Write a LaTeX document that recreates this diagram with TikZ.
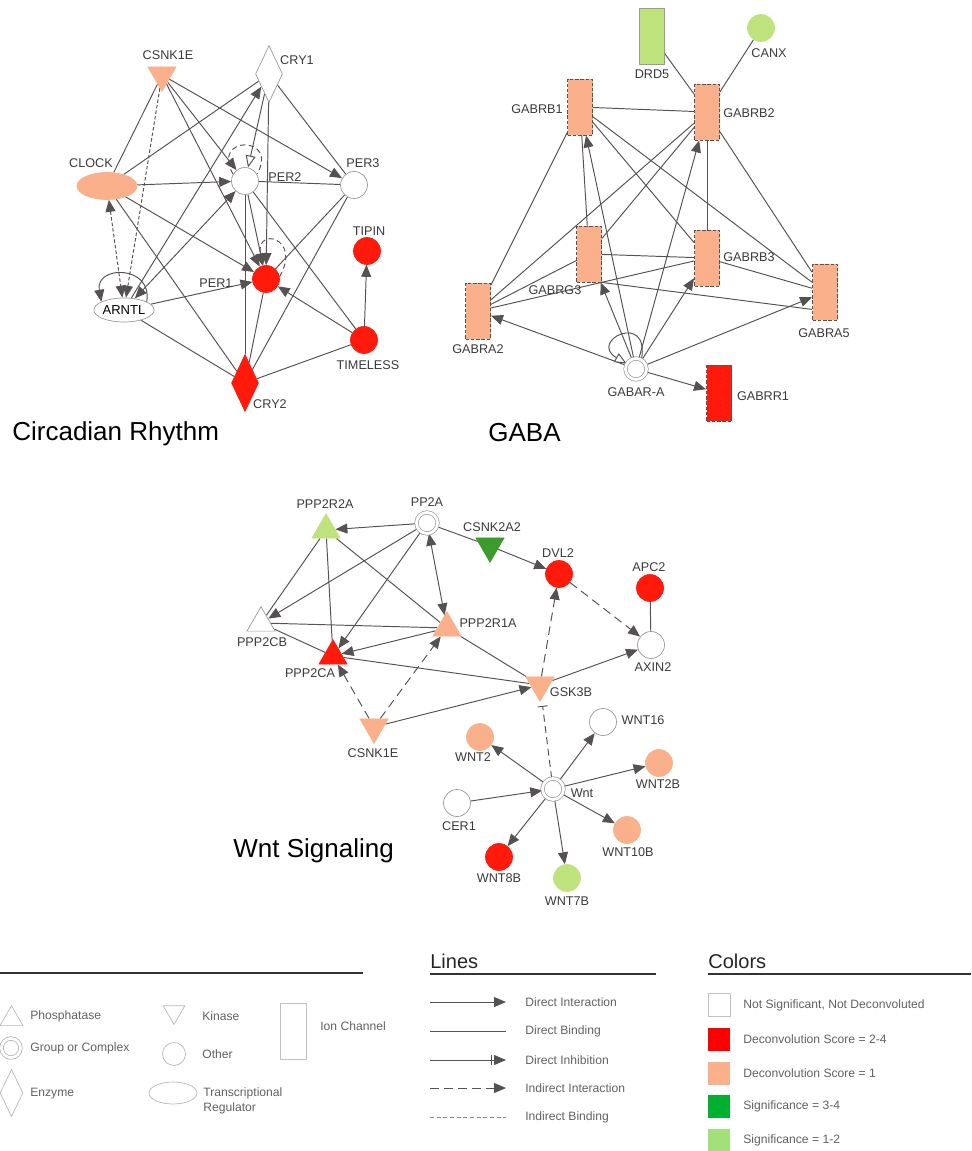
\documentclass[tikz,border=0pt]{standalone}
\usepackage{fontspec}
\setmainfont{Liberation Sans}
\usepackage{tikz}
\usetikzlibrary{shapes.geometric}
\usetikzlibrary{arrows.meta}
\usetikzlibrary{backgrounds}
\usetikzlibrary{calc}

\definecolor{edgegray}{HTML}{575252}
\definecolor{rimgray}{HTML}{9A9A9A}
\definecolor{txtgray}{HTML}{3A3A3A}
\definecolor{degred}{HTML}{FF1A0C}
\definecolor{degpeach}{HTML}{F9B08B}
\definecolor{siglime}{HTML}{BEE37C}
\definecolor{sigdark}{HTML}{3B9B2B}
\definecolor{keyred}{HTML}{FF0000}
\definecolor{keygreen}{HTML}{00B02E}
\definecolor{keylime}{HTML}{A4E07A}

\tikzset{
  every node/.style={inner sep=0pt},
  lbl/.style={font=\fontsize{7.2}{8}\selectfont, text=txtgray},
  title/.style={font=\fontsize{14.8}{16}\selectfont, text=black, anchor=base west},
  keyhead/.style={font=\fontsize{11.4}{13}\selectfont, text=black!85, anchor=base west},
  keytxt/.style={font=\fontsize{6.9}{8.4}\selectfont, text=black!62, anchor=west, align=left},
  other/.style={circle, draw=rimgray, fill=white, minimum size=0.54cm, line width=0.4pt},
  grp/.style={circle, draw=rimgray, fill=white, double=white, double distance=1.6pt, minimum size=0.42cm, line width=0.4pt},
  phos/.style={regular polygon, regular polygon sides=3, draw=rimgray, fill=white, minimum size=0.65cm, line width=0.4pt},
  kin/.style={phos, shape border rotate=180},
  enz/.style={diamond, draw=rimgray, fill=white, minimum width=0.54cm, minimum height=1.14cm, line width=0.4pt},
  treg/.style={ellipse, draw=rimgray, fill=white, minimum width=1.2cm, minimum height=0.54cm, line width=0.4pt},
  ionch/.style={rectangle, draw=edgegray, dash pattern=on 2pt off 1pt, minimum width=0.5cm, minimum height=1.12cm, line width=0.5pt},
  tint/.style={fill=#1, draw=#1},
  keyline/.style={line width=0.9pt, draw=black!80},
  db/.style={draw=edgegray, line width=0.55pt},
  di/.style={db, -{Triangle[length=2.4mm,width=2mm]}},
  dii/.style={db, {Triangle[length=2.4mm,width=2mm]}-{Triangle[length=2.4mm,width=2mm]}},
  opentip/.style={db, -{Triangle[open,length=2.4mm,width=2mm,fill=white]}},
  ii/.style={di, dash pattern=on 5pt off 3pt},
  fine/.style={dash pattern=on 2pt off 1.2pt}
}

\begin{document}
\begin{tikzpicture}[x=0.02cm, y=0.02cm]
  \useasboundingbox (0,0) rectangle (971,-1151);

  % Circadian Rhythm
  \node[kin, tint=degpeach] at (162,-75) (csnk) {};
  \node[enz] at (269,-74) (cry1) {};
  \node[treg, tint=degpeach] at (107,-186) (clock) {};
  \node[other] at (245,-181) (per2) {};
  \node[other] at (354,-185) (per3) {};
  \node[other, tint=degred] at (367,-251) (tipin) {};
  \node[other, tint=degred] at (266,-279) (per1) {};
  \node[treg, minimum height=0.48cm, font=\fontsize{7.4}{8}\selectfont] at (124,-310) (arntl) {ARNTL};
  \node[other, tint=degred] at (364,-340) (timeless) {};
  \node[enz, tint=degred] at (245,-383) (cry2) {};

  \node[lbl] at (168,-55) (csnk-l) {CSNK1E};
  \node[lbl] at (297,-60) (cry1-l) {CRY1};
  \node[lbl] at (91,-163) (clock-l) {CLOCK};
  \node[lbl] at (285,-177) (per2-l) {PER2};
  \node[lbl] at (363,-163) (per3-l) {PER3};
  \node[lbl] at (369,-231) (tipin-l) {TIPIN};
  \node[lbl] at (216,-283) (per1-l) {PER1};
  \node[lbl] at (368,-365) (timeless-l) {TIMELESS};
  \node[lbl] at (270,-404) (cry2-l) {CRY2};
  \node[title] at (12,-440) (circ-t) {Circadian Rhythm};

  \begin{scope}[on background layer]
    \foreach \a/\b in {csnk/clock, cry1/clock, cry1/per3, clock/cry2, per2/per3, per2/cry2,
                       per2/timeless, per3/per1, per3/cry2, timeless/cry2, arntl/cry2, cry2/per1}
      \draw[db] (\a) -- (\b);
    \foreach \a/\b in {csnk/per1, csnk/per2, csnk/per3, arntl/cry1, cry1/per1, clock/per2,
                       clock/per1, per2/per1, timeless/tipin, timeless/per1, arntl/per1}
      \draw[di] (\a) -- (\b);
    \draw[di, fine] (csnk) -- (arntl);
    \draw[dii, fine] (clock) -- (arntl);
    \draw[dii] (per2) -- (arntl);
    \draw[opentip] (cry1) -- (per2);
    % self loops
    \draw[db, dash pattern=on 3pt off 2pt] (per2.150) .. controls +(120:0.9cm) and +(60:0.9cm) .. (per2.30);
    \draw[di, dash pattern=on 3pt off 2pt] (per1.10) .. controls +(60:0.9cm) and +(100:0.8cm) .. (per1.105);
    \draw[di] (arntl.20) .. controls +(80:0.75cm) and +(100:0.75cm) .. (arntl.160);
  \end{scope}

  % GABA
  \node[ionch, draw=rimgray, solid, line width=0.4pt, fill=siglime] at (652,-36) (drd5) {};
  \node[other, tint=siglime] at (761,-28) (canx) {};
  \node[ionch, fill=degpeach] at (580,-107) (gabrb1) {};
  \node[ionch, fill=degpeach] at (707,-112) (gabrb2) {};
  \node[ionch, fill=degpeach] at (589,-254) (gabrg3) {};
  \node[ionch, fill=degpeach] at (707,-258) (gabrb3) {};
  \node[ionch, fill=degpeach] at (478,-311) (gabra2) {};
  \node[ionch, fill=degpeach] at (825,-292) (gabra5) {};
  \node[grp] at (636,-369) (gabara) {};
  \node[ionch, fill=degred] at (719,-393) (gabrr1) {};

  \node[lbl] at (652,-74) (drd5-l) {DRD5};
  \node[lbl] at (769,-53) (canx-l) {CANX};
  \node[lbl] at (537,-109) (gabrb1-l) {GABRB1};
  \node[lbl] at (749,-113) (gabrb2-l) {GABRB2};
  \node[lbl] at (555,-290) (gabrg3-l) {GABRG3};
  \node[lbl] at (749,-257) (gabrb3-l) {GABRB3};
  \node[lbl] at (478,-349) (gabra2-l) {GABRA2};
  \node[lbl] at (824,-333) (gabra5-l) {GABRA5};
  \node[lbl] at (636,-392) (gabara-l) {GABAR-A};
  \node[lbl] at (763,-396) (gabrr1-l) {GABRR1};
  \node[title] at (488,-441) (gaba-t) {GABA};

  \begin{scope}[on background layer]
    \foreach \a/\b in {drd5/gabrb2, canx/gabrb2, gabrb1/gabrb2, gabrb1/gabra2, gabrb1/gabrg3,
                       gabrb1/gabrb3, gabrb1/gabra5, gabrb2/gabra2, gabrb2/gabrg3, gabrb2/gabrb3,
                       gabrb2/gabra5, gabrg3/gabrb3, gabrg3/gabra2, gabrb3/gabra2, gabrb3/gabra5}
      \draw[db] (\a) -- (\b);
    \draw[db] (gabrg3.south east) -- ($(gabra5.south west)+(0,11)$);
    \foreach \b in {gabrb1, gabrb2, gabrg3, gabrb3, gabra2, gabra5, gabrr1}
      \draw[di] (gabara) -- (\b);
    \draw[opentip] (gabara.60) .. controls +(80:1cm) and +(150:0.9cm) .. (gabara.150);
  \end{scope}

  % Wnt Signaling
  \node[phos, tint=siglime] at (326,-530) (ppp2r2a) {};
  \node[grp] at (427,-523) (pp2a) {};
  \node[kin, tint=sigdark] at (490,-546) (csnk2a2) {};
  \node[other, tint=degred] at (559,-574) (dvl2) {};
  \node[other, tint=degred] at (650,-588) (apc2) {};
  \node[other] at (651,-645) (axin2) {};
  \node[phos] at (261,-623) (ppp2cb) {};
  \node[phos, tint=degpeach] at (447,-628) (ppp2r1a) {};
  \node[phos, tint=degred] at (333,-656) (ppp2ca) {};
  \node[kin, tint=degpeach] at (540,-685) (gsk3b) {};
  \node[kin, tint=degpeach] at (374,-727) (csnkw) {};
  \node[other, tint=degpeach] at (480,-737) (wnt2) {};
  \node[other] at (603,-722) (wnt16) {};
  \node[other, tint=degpeach] at (659,-763) (wnt2b) {};
  \node[grp] at (553,-789) (wnt) {};
  \node[other] at (457,-803) (cer1) {};
  \node[other, tint=degpeach] at (627,-830) (wnt10b) {};
  \node[other, tint=degred] at (499,-857) (wnt8b) {};
  \node[other, tint=siglime] at (567,-878) (wnt7b) {};

  \node[lbl] at (325,-504) (ppp2r2a-l) {PPP2R2A};
  \node[lbl] at (427,-502) (pp2a-l) {PP2A};
  \node[lbl] at (492,-527) (csnk2a2-l) {CSNK2A2};
  \node[lbl] at (558,-553) (dvl2-l) {DVL2};
  \node[lbl] at (649,-567) (apc2-l) {APC2};
  \node[lbl] at (653,-667) (axin2-l) {AXIN2};
  \node[lbl] at (262,-642) (ppp2cb-l) {PPP2CB};
  \node[lbl] at (488,-623) (ppp2r1a-l) {PPP2R1A};
  \node[lbl] at (310,-673) (ppp2ca-l) {PPP2CA};
  \node[lbl] at (571,-692) (gsk3b-l) {GSK3B};
  \node[lbl] at (373,-753) (csnkw-l) {CSNK1E};
  \node[lbl] at (473,-757) (wnt2-l) {WNT2};
  \node[lbl] at (643,-720) (wnt16-l) {WNT16};
  \node[lbl] at (658,-784) (wnt2b-l) {WNT2B};
  \node[lbl] at (582,-793) (wnt-l) {Wnt};
  \node[lbl] at (459,-826) (cer1-l) {CER1};
  \node[lbl] at (628,-852) (wnt10b-l) {WNT10B};
  \node[lbl] at (499,-878) (wnt8b-l) {WNT8B};
  \node[lbl] at (567,-901) (wnt7b-l) {WNT7B};
  \node[title] at (233,-857) (wnt-t) {Wnt Signaling};

  \begin{scope}[on background layer]
    \foreach \a/\b in {pp2a/csnk2a2, ppp2r2a/ppp2cb, ppp2r2a/ppp2ca, ppp2r2a/ppp2r1a, ppp2r1a/gsk3b,
                       ppp2cb/ppp2r1a, ppp2cb/ppp2ca, ppp2ca/gsk3b, apc2/axin2}
      \draw[db] (\a) -- (\b);
    \foreach \a/\b in {pp2a/ppp2r2a, pp2a/ppp2cb, pp2a/ppp2ca, csnk2a2/dvl2, ppp2r1a/ppp2ca,
                       csnkw/gsk3b, gsk3b/axin2, cer1/wnt}
      \draw[di] (\a) -- (\b);
    \foreach \b in {wnt2, wnt16, wnt2b, wnt10b, wnt8b, wnt7b}
      \draw[di] (wnt) -- (\b);
    \draw[dii] (pp2a) -- (ppp2r1a);
    \foreach \a/\b in {csnkw/ppp2ca, csnkw/ppp2r1a, gsk3b/dvl2, dvl2/axin2}
      \draw[ii] (\a) -- (\b);
    \draw[db, dash pattern=on 4pt off 2.5pt, -{Bar[width=2mm]}, shorten >=4pt] (wnt) -- (gsk3b);
  \end{scope}

  % legend: shapes
  \draw[keyline] (0,-973) -- (363,-973);
  \node[phos, draw=rimgray!70, minimum size=0.53cm] at (11.5,-1019) (key-phos) {};
  \node[grp, draw=rimgray!80, minimum size=0.38cm] at (11,-1048) (key-grp) {};
  \node[enz, draw=rimgray!70, minimum width=0.46cm, minimum height=0.94cm] at (11.5,-1093) (key-enz) {};
  \node[kin, draw=rimgray!70, minimum size=0.5cm] at (174,-1012) (key-kin) {};
  \node[other, draw=rimgray!70, minimum size=0.46cm] at (174,-1054) (key-oth) {};
  \node[treg, draw=rimgray!70, minimum width=0.96cm, minimum height=0.44cm] at (173,-1093) (key-treg) {};
  \node[rectangle, draw=rimgray!60, line width=0.4pt, minimum width=0.52cm, minimum height=1.12cm] at (293,-1031) (key-ion) {};
  \node[keytxt] at (30,-1016) (key-phos-t) {Phosphatase};
  \node[keytxt] at (30,-1048) (key-grp-t) {Group or Complex};
  \node[keytxt] at (30,-1094) (key-enz-t) {Enzyme};
  \node[keytxt] at (202,-1016) (key-kin-t) {Kinase};
  \node[keytxt] at (202,-1054) (key-oth-t) {Other};
  \node[keytxt] at (203,-1101) (key-treg-t) {Transcriptional\\Regulator};
  \node[keytxt] at (320,-1026) (key-ion-t) {Ion Channel};

  % legend: lines
  \node[keyhead] at (430,-968) (lines-t) {Lines};
  \draw[keyline] (430,-974) -- (656,-974);
  \coordinate (l1a) at (430,-1002); \coordinate (l1b) at (506,-1002);
  \coordinate (l2a) at (430,-1031); \coordinate (l2b) at (506,-1031);
  \coordinate (l3a) at (430,-1060); \coordinate (l3b) at (506,-1060);
  \coordinate (l4a) at (430,-1088); \coordinate (l4b) at (506,-1088);
  \coordinate (l5a) at (430,-1117); \coordinate (l5b) at (506,-1117);
  \draw[di] (l1a) -- (l1b);
  \draw[db] (l2a) -- (l2b);
  \draw[db, -{Bar[width=2mm,sep=1.2pt]Triangle[length=2.4mm,width=2mm]}] (l3a) -- (l3b);
  \draw[ii] (l4a) -- (l4b);
  \draw[db, draw=edgegray!70, dash pattern=on 2.2pt off 1.6pt] (l5a) -- (l5b);
  \node[keytxt] at (525,-1002) (l1-t) {Direct Interaction};
  \node[keytxt] at (525,-1031) (l2-t) {Direct Binding};
  \node[keytxt] at (525,-1060) (l3-t) {Direct Inhibition};
  \node[keytxt] at (525,-1088) (l4-t) {Indirect Interaction};
  \node[keytxt] at (525,-1117) (l5-t) {Indirect Binding};

  % legend: colors
  \node[keyhead] at (708,-968) (colors-t) {Colors};
  \draw[keyline] (708,-974) -- (971,-974);
  \node[rectangle, draw=rimgray!60, line width=0.4pt, fill=white, minimum width=0.44cm, minimum height=0.46cm] at (719,-1005) (key-ns) {};
  \node[rectangle, fill=keyred, minimum width=0.44cm, minimum height=0.46cm] at (719,-1039) (key-dc4) {};
  \node[rectangle, fill=degpeach, minimum width=0.44cm, minimum height=0.46cm] at (719,-1073) (key-dc1) {};
  \node[rectangle, fill=keygreen, minimum width=0.44cm, minimum height=0.46cm] at (719,-1106) (key-sg4) {};
  \node[rectangle, fill=keylime, minimum width=0.44cm, minimum height=0.46cm] at (719,-1140) (key-sg2) {};
  \node[keytxt] at (743,-1005) (key-ns-t) {Not Significant, Not Deconvoluted};
  \node[keytxt] at (743,-1039) (key-dc4-t) {Deconvolution Score = 2-4};
  \node[keytxt] at (743,-1073) (key-dc1-t) {Deconvolution Score = 1};
  \node[keytxt] at (743,-1106) (key-sg4-t) {Significance = 3-4};
  \node[keytxt] at (743,-1140) (key-sg2-t) {Significance = 1-2};
\end{tikzpicture}
\end{document}
